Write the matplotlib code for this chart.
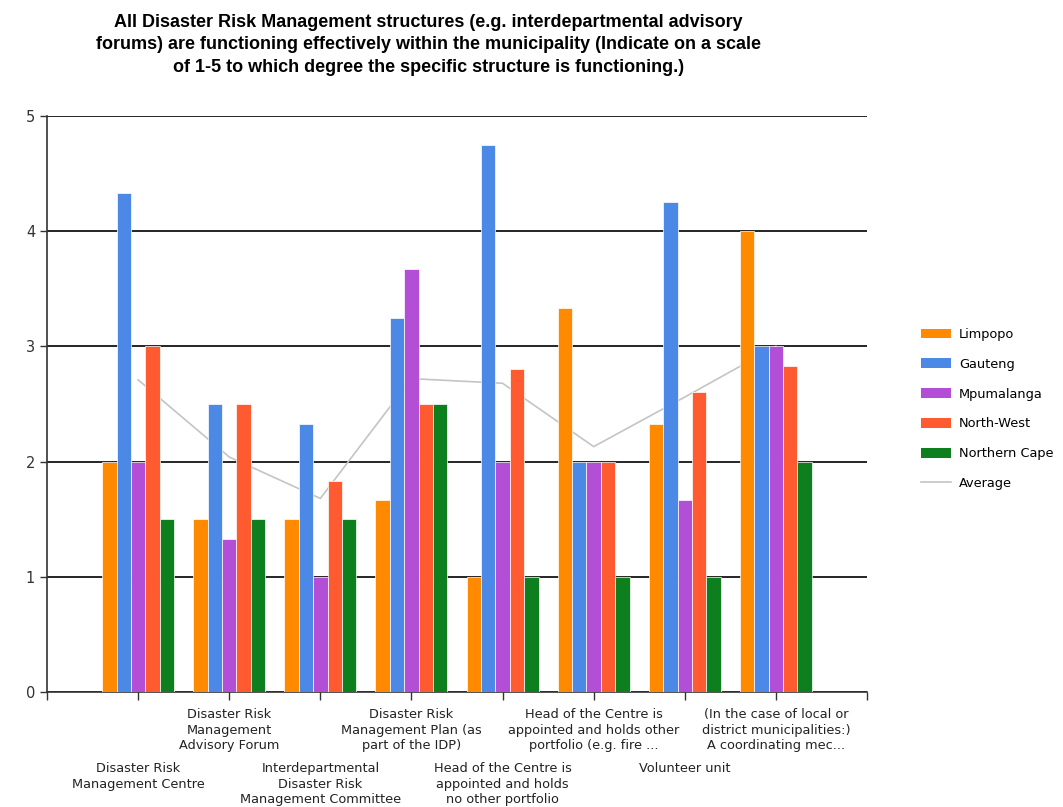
import numpy as np
import matplotlib
matplotlib.use("Agg")
import matplotlib.pyplot as plt
from matplotlib.lines import Line2D
from matplotlib.patches import Patch

# structures rated on a 1-5 scale, one group of bars per structure
categories = [
    "Disaster Risk\nManagement Centre",
    "Disaster Risk\nManagement\nAdvisory Forum",
    "Interdepartmental\nDisaster Risk\nManagement Committee",
    "Disaster Risk\nManagement Plan (as\npart of the IDP)",
    "Head of the Centre is\nappointed and holds\nno other portfolio",
    "Head of the Centre is\nappointed and holds other\nportfolio (e.g. fire ...",
    "Volunteer unit",
    "(In the case of local or\ndistrict municipalities:)\nA coordinating mec...",
]

provinces = ["Limpopo", "Gauteng", "Mpumalanga", "North-West", "Northern Cape"]

limpopo = [2.0, 1.5, 1.5, 1.67, 1.0, 3.33, 2.33, 4.0]
gauteng = [4.33, 2.5, 2.33, 3.25, 4.75, 2.0, 4.25, 3.0]
mpumalanga = [2.0, 1.33, 1.0, 3.67, 2.0, 2.0, 1.67, 3.0]
north_west = [3.0, 2.5, 1.83, 2.5, 2.8, 2.0, 2.6, 2.83]
northern_cape = [1.5, 1.5, 1.5, 2.5, 1.0, 1.0, 1.0, 2.0]
average = [2.71, 2.04, 1.68, 2.72, 2.68, 2.13, 2.56, 3.0]

colors = ["#FF8A00", "#4C88E6", "#B24FD6", "#FF5A30", "#0E7F1E"]
avg_color = "#C4C4C4"

title = ("All Disaster Risk Management structures (e.g. interdepartmental advisory\n"
         "forums) are functioning effectively within the municipality (Indicate on a scale\n"
         "of 1-5 to which degree the specific structure is functioning.)")

plt.rcParams['font.family'] = ['DejaVu Sans']

fig = plt.figure(figsize=(10.63, 8.07), dpi=100)
ax = fig.add_axes([0.0442, 0.1425, 0.7714, 0.7138])

series = [limpopo, gauteng, mpumalanga, north_west, northern_cape]
x = np.arange(len(categories))
width = 0.158

ax.plot(x, average, color=avg_color, linewidth=1.2, zorder=2)
for i, vals in enumerate(series):
    ax.bar(x + (i - 2) * width, vals, width, color=colors[i],
           edgecolor='white', linewidth=0.5, zorder=3)

ax.set_xlim(-1, 8)
ax.set_ylim(0, 5)
ax.set_yticks(range(6))
ax.yaxis.grid(True, color='black', linewidth=1.2, zorder=0)
ax.set_axisbelow(True)
ax.tick_params(axis='y', labelsize=10.5, colors='#333333', length=5, width=1)
ax.set_xticks(range(-1, 9))
ax.set_xticklabels([])
ax.tick_params(axis='x', length=6, width=1, colors='#333333')

for s in ['top', 'right']:
    ax.spines[s].set_visible(False)
for s in ['left', 'bottom']:
    ax.spines[s].set_color('#333333')
    ax.spines[s].set_linewidth(1.2)

# category names in two staggered rows under the axis
for i, name in enumerate(categories):
    off = -16 if i % 2 == 1 else -70
    ax.annotate(name, xy=(i, 0), xycoords=('data', 'axes fraction'),
                xytext=(0, off * 0.72), textcoords='offset points',
                ha='center', va='top', fontsize=9.3, color='#222222',
                linespacing=1.25)

fig.text(0.403, 0.983, title, ha='center', va='top', fontsize=13,
         fontweight='bold', family='Liberation Sans', linespacing=1.42)

handles = [Patch(facecolor=c, edgecolor='none') for c in colors]
handles.append(Line2D([0], [0], color=avg_color, linewidth=1.2))
fig.legend(handles, provinces + ["Average"], loc='upper left',
           bbox_to_anchor=(0.862, 0.600), frameon=False, fontsize=9.3,
           handlelength=2.3, handleheight=0.8, labelspacing=1.3,
           handletextpad=0.6, borderaxespad=0)

fig.savefig("out.png", dpi=100)
